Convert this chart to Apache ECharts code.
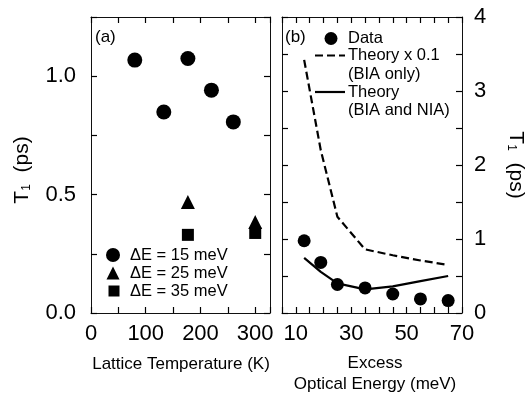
<!DOCTYPE html>
<html>
<head>
<meta charset="utf-8">
<script src="https://cdn.jsdelivr.net/npm/echarts@6/dist/echarts.min.js"></script>
<style>html,body{margin:0;padding:0;background:#fff;}#c{width:525px;height:393px;}</style>
</head>
<body>
<div id="c"></div>
<script>
// ---- Panel (a): T1 vs lattice temperature ----
const tempK_15 = [80, 133, 177, 220, 260];
const t1_15 = [1.068, 0.849, 1.075, 0.941, 0.807];
const tempK_25 = [177, 300];
const t1_25 = [0.469, 0.384];
const tempK_35 = [177, 300];
const t1_35 = [0.330, 0.338];
const seriesNamesA = ['ΔE = 15 meV', 'ΔE = 25 meV', 'ΔE = 35 meV'];
const leftXTickLabels = [0, 100, 200, 300];
const leftYTickLabels = [0.0, 0.5, 1.0];

// ---- Panel (b): T1 vs excess optical energy ----
const excessE = [13, 19, 25, 35, 45, 55, 65];
const t1Data = [0.976, 0.683, 0.385, 0.339, 0.257, 0.19, 0.168];
const theoryBIAx01 = [3.42, 2.2, 1.3, 0.86, 0.78, 0.71, 0.65];
const theoryBIANIA = [0.745, 0.556, 0.40, 0.32, 0.36, 0.43, 0.50];
const rightXTickLabels = [10, 30, 50, 70];
const rightYTickLabels = [0, 1, 2, 3, 4];

const FONT = "'Liberation Sans', Arial, Helvetica, sans-serif";
const zip = (xs, ys) => xs.map((x, i) => [x, ys[i]]);
const has = (arr, v) => arr.some(a => Math.abs(a - v) < 1e-6);

function ax(extra) {
  return Object.assign({
    type: 'value',
    axisLine: { show: true, onZero: false, lineStyle: { color: '#111', width: 1 } },
    axisTick: { show: true, inside: true, length: 6, lineStyle: { color: '#000', width: 1.2 } },
    splitLine: { show: false },
    axisLabel: { show: false }
  }, extra);
}
const lbl = (margin, fmt) => ({ show: true, fontSize: 22, color: '#000', fontFamily: FONT, margin: margin, formatter: fmt });
const solid = { color: '#000', opacity: 1 };

const chart = echarts.init(document.getElementById('c'), null, { renderer: 'canvas' });
const option = {
  animation: false,
  backgroundColor: '#fff',
  grid: [
    { left: 91, top: 17, width: 179, height: 296 },
    { left: 282, top: 17, width: 180, height: 296 }
  ],
  xAxis: [
    ax({ gridIndex: 0, position: 'bottom', min: 0, max: 327, interval: 50,
         axisLabel: lbl(10, v => has(leftXTickLabels, v) ? String(v) : '') }),
    ax({ gridIndex: 0, position: 'top', min: 0, max: 327, interval: 50 }),
    ax({ gridIndex: 1, position: 'bottom', min: 5, max: 70, interval: 5,
         axisLabel: lbl(10, v => has(rightXTickLabels, v) ? String(v) : '') }),
    ax({ gridIndex: 1, position: 'top', min: 5, max: 70, interval: 5 })
  ],
  yAxis: [
    ax({ gridIndex: 0, position: 'left', min: 0, max: 1.25, interval: 0.25,
         axisLabel: lbl(15, v => has(leftYTickLabels, v) ? v.toFixed(1) : '') }),
    ax({ gridIndex: 0, position: 'right', min: 0, max: 1.25, interval: 0.25 }),
    ax({ gridIndex: 1, position: 'left', min: 0, max: 4, interval: 0.5 }),
    ax({ gridIndex: 1, position: 'right', min: 0, max: 4, interval: 0.5,
         axisLabel: lbl(12, v => has(rightYTickLabels, v) ? String(v) : '') })
  ],
  series: [
    { type: 'scatter', name: seriesNamesA[0], xAxisIndex: 0, yAxisIndex: 0, data: zip(tempK_15, t1_15),
      symbol: 'circle', symbolSize: 15, itemStyle: solid },
    { type: 'scatter', name: seriesNamesA[1], xAxisIndex: 0, yAxisIndex: 0, data: zip(tempK_25, t1_25),
      symbol: 'triangle', symbolSize: 14, itemStyle: solid },
    { type: 'scatter', name: seriesNamesA[2], xAxisIndex: 0, yAxisIndex: 0, data: zip(tempK_35, t1_35),
      symbol: 'rect', symbolSize: 12, itemStyle: solid },
    { type: 'line', name: 'Theory x 0.1 (BIA only)', xAxisIndex: 2, yAxisIndex: 3, data: zip(excessE, theoryBIAx01),
      showSymbol: false, lineStyle: { color: '#000', width: 2.2, type: [8, 4], opacity: 1 } },
    { type: 'line', name: 'Theory (BIA and NIA)', xAxisIndex: 2, yAxisIndex: 3, data: zip(excessE, theoryBIANIA),
      showSymbol: false, lineStyle: { color: '#000', width: 2.2, opacity: 1 } },
    { type: 'scatter', name: 'Data', xAxisIndex: 2, yAxisIndex: 3, data: zip(excessE, t1Data),
      symbol: 'circle', symbolSize: 13, itemStyle: solid }
  ],
  graphic: [
    // panel tags
    { type: 'text', x: 95, y: 37, style: { text: '(a)', fontSize: 17, fontFamily: FONT, fill: '#000', align: 'left', verticalAlign: 'middle' } },
    { type: 'text', x: 285, y: 37, style: { text: '(b)', fontSize: 17, fontFamily: FONT, fill: '#000', align: 'left', verticalAlign: 'middle' } },
    // legend (a)
    { type: 'circle', shape: { cx: 113, cy: 255, r: 7 }, style: { fill: '#000' } },
    { type: 'polygon', shape: { points: [[113, 266.5], [106.5, 279.5], [119.5, 279.5]] }, style: { fill: '#000' } },
    { type: 'rect', shape: { x: 108.5, y: 285.5, width: 11, height: 11 }, style: { fill: '#000' } },
    { type: 'text', x: 130, y: 255, style: { text: seriesNamesA[0], fontSize: 16.5, fontFamily: FONT, fill: '#000', align: 'left', verticalAlign: 'middle' } },
    { type: 'text', x: 130, y: 273.3, style: { text: seriesNamesA[1], fontSize: 16.5, fontFamily: FONT, fill: '#000', align: 'left', verticalAlign: 'middle' } },
    { type: 'text', x: 130, y: 291.5, style: { text: seriesNamesA[2], fontSize: 16.5, fontFamily: FONT, fill: '#000', align: 'left', verticalAlign: 'middle' } },
    // legend (b)
    { type: 'circle', shape: { cx: 331, cy: 38.5, r: 6.5 }, style: { fill: '#000' } },
    { type: 'text', x: 348, y: 38.5, style: { text: 'Data', fontSize: 16.5, fontFamily: FONT, fill: '#000', align: 'left', verticalAlign: 'middle' } },
    { type: 'line', shape: { x1: 315, y1: 55.5, x2: 345, y2: 55.5 }, style: { stroke: '#000', lineWidth: 2.2, lineDash: [8, 4] } },
    { type: 'text', x: 348, y: 55.5, style: { text: 'Theory x 0.1', fontSize: 16.5, fontFamily: FONT, fill: '#000', align: 'left', verticalAlign: 'middle' } },
    { type: 'text', x: 348, y: 74, style: { text: '(BIA only)', fontSize: 16.5, fontFamily: FONT, fill: '#000', align: 'left', verticalAlign: 'middle' } },
    { type: 'line', shape: { x1: 315, y1: 92, x2: 345, y2: 92 }, style: { stroke: '#000', lineWidth: 2.2 } },
    { type: 'text', x: 348, y: 92, style: { text: 'Theory', fontSize: 16.5, fontFamily: FONT, fill: '#000', align: 'left', verticalAlign: 'middle' } },
    { type: 'text', x: 348, y: 110, style: { text: '(BIA and NIA)', fontSize: 16.5, fontFamily: FONT, fill: '#000', align: 'left', verticalAlign: 'middle' } },
    // axis titles
    { type: 'text', x: 181, y: 364, style: { text: 'Lattice Temperature (K)', fontSize: 17, fontFamily: FONT, fill: '#000', align: 'center', verticalAlign: 'middle' } },
    { type: 'text', x: 375, y: 363, style: { text: 'Excess', fontSize: 17, fontFamily: FONT, fill: '#000', align: 'center', verticalAlign: 'middle' } },
    { type: 'text', x: 375, y: 384, style: { text: 'Optical Energy (meV)', fontSize: 17, fontFamily: FONT, fill: '#000', align: 'center', verticalAlign: 'middle' } },
    { type: 'text', x: 22, y: 170, rotation: Math.PI / 2,
      style: { text: 'T{s|1}  (ps)', fontSize: 21, fontFamily: FONT, fill: '#000', align: 'center', verticalAlign: 'middle',
               rich: { s: { fontSize: 12, fontFamily: FONT, fill: '#000', padding: [9, 0, 0, 0] } } } },
    { type: 'text', x: 516, y: 165, rotation: -Math.PI / 2,
      style: { text: 'T{s|1}  (ps)', fontSize: 21, fontFamily: FONT, fill: '#000', align: 'center', verticalAlign: 'middle',
               rich: { s: { fontSize: 12, fontFamily: FONT, fill: '#000', padding: [9, 0, 0, 0] } } } }
  ]
};
chart.setOption(option);
</script>
</body>
</html>
